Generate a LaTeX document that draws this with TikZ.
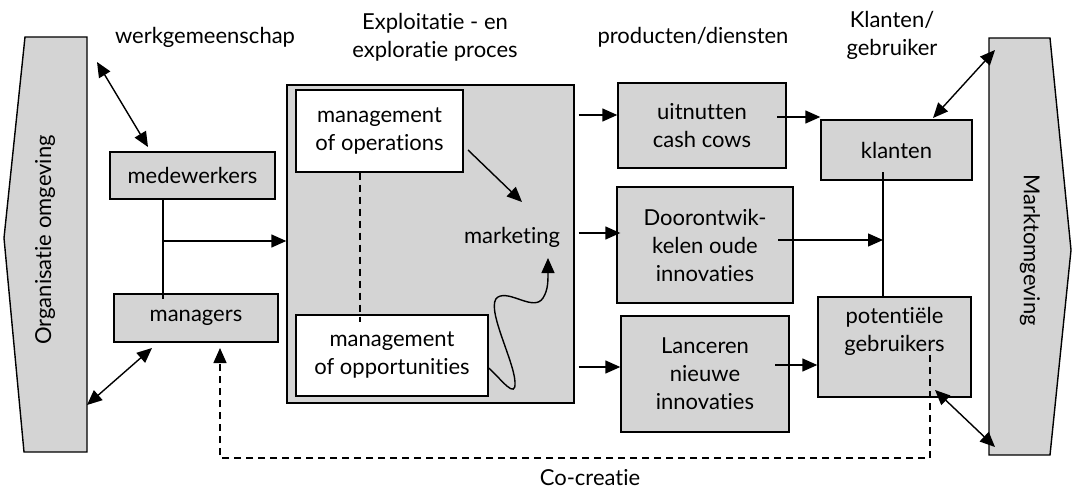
\documentclass[tikz,border=0pt]{standalone}
\usepackage{fontspec}
\setmainfont{Lato}[Ligatures={NoCommon}]
\usetikzlibrary{arrows.meta}
\definecolor{boxgray}{RGB}{212,212,212}
\newcommand{\dfont}{\fontsize{22}{28}\selectfont}
\begin{document}
\begin{tikzpicture}[x=1pt,y=-1pt,
  box/.style={draw, fill=boxgray, line width=1.4pt, align=center, inner sep=0pt, font=\dfont},
  wbox/.style={box, fill=white},
  lbl/.style={align=center, inner sep=0pt, font=\dfont},
  arr/.style={line width=1.4pt, -{Triangle[length=15pt,width=13pt]}},
  darr/.style={line width=1.4pt, {Triangle[length=15pt,width=13pt]}-{Triangle[length=15pt,width=13pt]}},
  ln/.style={line width=1.4pt},
  dln/.style={line width=1.4pt, dash pattern=on 7pt off 5pt}]
\useasboundingbox (0,0) rectangle (1075,492);

% side shapes
\draw[fill=boxgray, line width=1.4pt] (25,37) -- (87,37) -- (87,452) -- (24,452) -- (4,238) -- cycle;
\node[lbl, rotate=90] (org) at (45,240) {Organisatie omgeving};
\draw[fill=boxgray, line width=1.4pt] (989,38) -- (1050,38) -- (1071,250) -- (1050,455) -- (989,455) -- cycle;
\node[lbl, rotate=-90] (markt) at (1030,250) {Marktomgeving};

% headings
\node[lbl] (hwerk) at (205,37) {werkgemeenschap};
\node[lbl] (hexpl) at (435,37) {Exploitatie - en\\exploratie proces};
\node[lbl] (hprod) at (693,37) {producten/diensten};
\node[lbl] (hklant) at (892,35) {Klanten/\\gebruiker};
\node[lbl] (cocr) at (590,478) {Co-creatie};

% left boxes
\node[box, minimum width=165, minimum height=47] (medew) at (192.5,175.5) {medewerkers};
\node[box, minimum width=164, minimum height=48] (managers) at (196,318) {managers};

% central process box
\node[box, minimum width=287, minimum height=318] (big) at (430.5,244) {};
\node[wbox, minimum width=167, minimum height=82] (ops) at (379.5,131) {management\\of operations};
\node[wbox, minimum width=192, minimum height=81] (opp) at (392,355.5) {management\\of opportunities};
\node[lbl] (mkt) at (512,237) {marketing};

% products
\node[box, minimum width=168, minimum height=85] (uit) at (702,125.5) {uitnutten\\cash cows};
\node[box, minimum width=176, minimum height=116] (door) at (705,245) {Doorontwik-\\kelen oude\\innovaties};
\node[box, minimum width=168, minimum height=116] (lanc) at (705,374) {Lanceren\\nieuwe\\innovaties};

% customers
\node[box, minimum width=151, minimum height=60] (klanten) at (896.5,150) {klanten};
\node[box, minimum width=153, minimum height=100] (pot) at (894.5,347) {};
\node[lbl] (potT) at (894.5,331) {potentiële\\gebruikers};

% coordinates for free ends
\coordinate (oA) at (97,62);
\coordinate (mA) at (148,147);
\coordinate (oB) at (87,405);
\coordinate (mB) at (152,348);
\coordinate (j) at (163,241);
\coordinate (kA) at (933,118);
\coordinate (rA) at (995,50);
\coordinate (pB) at (935,390);
\coordinate (rB) at (995,447);
\coordinate (o1) at (468,150);
\coordinate (m1) at (522,202);
\coordinate (u1) at (777,117);
\coordinate (d1) at (778,240);
\coordinate (l1) at (775,365);
\coordinate (vTop) at (883,172);
\coordinate (vBot) at (883,297);
\coordinate (c1) at (930,355);
\coordinate (c2) at (930,458);
\coordinate (c3) at (220,458);
\coordinate (c4) at (220,348);

% left connectors
\draw[darr] (oA) -- (mA);
\draw[darr] (oB) -- (mB);
\draw[ln] (medew.south -| j) -- ([yshift=-6]managers.north -| j);
\draw[arr] (j) -- (big.west |- j);

% inside central box
\draw[dln] (ops.south -| 360,0) -- ([yshift=-8]opp.north -| 360,0);
\draw[arr] (o1) -- (m1);
\draw[arr] (opp.east |- 0,368) .. controls (502,380) and (516,400) .. (515,382)
  .. controls (514,360) and (484,305) .. (498,297)
  .. controls (510,290) and (534,312) .. (543,298)
  .. controls (548,290) and (548,282) .. (548,258);

% central -> products
\draw[arr, shorten <=4pt] (big.east |- 0,115) -- (uit.west |- 0,115);
\draw[arr, shorten <=4pt] (big.east |- 0,233) -- ([xshift=4]door.west |- 0,233);
\draw[arr, shorten <=4pt] (big.east |- 0,367) -- (lanc.west |- 0,367);

% products -> customers
\draw[arr] (u1) -- (klanten.west |- u1);
\draw[arr] (d1) -- (d1 -| vTop);
\draw[arr] (l1) -- (pot.west |- l1);
\draw[ln] (vTop) -- (vBot);

% customers <-> market
\draw[darr] (kA) -- (rA);
\draw[darr] (pB) -- (rB);

% co-creation
\draw[dln, -{Triangle[length=15pt,width=13pt]}] (c1) -- (c2) -- (c3) -- (c4);
\end{tikzpicture}
\end{document}
